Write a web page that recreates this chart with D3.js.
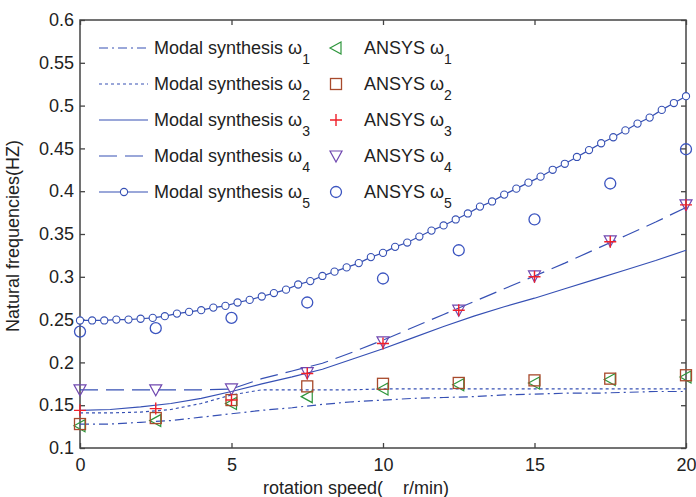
<!DOCTYPE html>
<head>
  <style>
    body { margin: 0; background: #fff; }
    text { font-family: Arial, "Liberation Sans", sans-serif; fill: #222; }
  </style>
</head>
<title>Natural frequencies vs rotation speed</title>
<body>
<script src="https://cdn.jsdelivr.net/npm/d3@7"></script>
<script>

// ---- data ----
var xTicks = [0, 5, 10, 15, 20];
var yTicks = [0.1, 0.15, 0.2, 0.25, 0.3, 0.35, 0.4, 0.45, 0.5, 0.55, 0.6];

// modal synthesis curves, sampled every 1 r/min
var lineX = [0,1,2,3,4,5,6,7,8,9,10,11,12,13,14,15,16,17,18,19,20];
var modal1 = [0.128,0.128,0.130,0.132,0.136,0.140,0.144,0.147,0.151,0.154,0.156,0.158,0.159,0.160,0.162,0.163,0.164,0.164,0.165,0.166,0.166];
var modal2 = [0.141,0.141,0.142,0.145,0.152,0.162,0.168,0.168,0.168,0.168,0.169,0.169,0.169,0.169,0.169,0.169,0.169,0.169,0.169,0.169,0.169];
var modal3 = [0.144,0.145,0.148,0.152,0.158,0.166,0.175,0.183,0.192,0.204,0.216,0.229,0.242,0.254,0.265,0.275,0.286,0.297,0.308,0.319,0.331];
var modal4 = [0.168,0.168,0.168,0.168,0.168,0.169,0.181,0.190,0.199,0.212,0.226,0.241,0.256,0.271,0.286,0.301,0.316,0.332,0.348,0.364,0.381];

// modal synthesis w5, drawn with circles every 0.4 r/min
var circX = [0,0.4,0.8,1.2,1.6,2,2.4,2.8,3.2,3.6,4,4.4,4.8,5.2,5.6,6,6.4,6.8,7.2,7.6,8,8.4,8.8,9.2,9.6,10,
             10.4,10.8,11.2,11.6,12,12.4,12.8,13.2,13.6,14,14.4,14.8,15.2,15.6,16,16.4,16.8,17.2,17.6,18,18.4,18.8,19.2,19.6,20];
var modal5 = [0.249,0.249,0.249,0.250,0.250,0.251,0.252,0.254,0.257,0.259,0.261,0.264,0.266,0.270,0.273,0.277,0.281,0.285,0.291,0.295,0.301,0.306,0.311,0.316,0.323,0.328,
              0.335,0.340,0.347,0.354,0.360,0.367,0.374,0.382,0.388,0.396,0.403,0.410,0.417,0.425,0.432,0.440,0.448,0.456,0.463,0.471,0.479,0.486,0.495,0.503,0.511];

// ANSYS results
var ansysX = [0, 2.5, 5, 7.5, 10, 12.5, 15, 17.5, 20];
var ansys1 = [0.126,0.132,0.152,0.160,0.169,0.174,0.176,0.180,0.183];
var ansys2 = [0.128,0.135,0.156,0.172,0.175,0.176,0.179,0.181,0.185];
var ansys3 = [0.144,0.146,0.156,0.187,0.222,0.261,0.300,0.341,0.384];
var ansys4 = [0.168,0.168,0.169,0.188,0.224,0.261,0.301,0.342,0.384];
var ansys5 = [0.236,0.240,0.252,0.270,0.298,0.331,0.367,0.409,0.449];

var blue = "#3650b4";

var svg = d3.select("body").append("svg")
  .attr("width", 696).attr("height", 497);

var x = d3.scaleLinear().domain([0, 20]).range([80, 686]);
var y = d3.scaleLinear().domain([0.1, 0.6]).range([448, 20]);

// axes box with inward ticks
var axCol = "#444";
svg.append("g").attr("transform", "translate(0,448)")
  .call(d3.axisBottom(x).tickValues(xTicks).tickSizeInner(-5).tickSizeOuter(0).tickPadding(10))
  .call(function(g){ g.select(".domain").remove(); });
svg.append("g").attr("transform", "translate(0,20)")
  .call(d3.axisTop(x).tickValues(xTicks).tickSizeInner(-5).tickSizeOuter(0).tickFormat(""))
  .call(function(g){ g.select(".domain").remove(); });
svg.append("g").attr("transform", "translate(80,0)")
  .call(d3.axisLeft(y).tickValues(yTicks).tickSizeInner(-5).tickSizeOuter(0).tickPadding(6).tickFormat(d3.format("")))
  .call(function(g){ g.select(".domain").remove(); });
svg.append("g").attr("transform", "translate(686,0)")
  .call(d3.axisRight(y).tickValues(yTicks).tickSizeInner(-5).tickSizeOuter(0).tickFormat(""))
  .call(function(g){ g.select(".domain").remove(); });
svg.selectAll(".tick line").attr("stroke", axCol).attr("stroke-width", 1.3);
svg.selectAll(".tick text").attr("font-size", 18).attr("fill", "#333")
  .attr("font-family", "Arial, 'Liberation Sans', sans-serif");
svg.append("rect").attr("x", 80).attr("y", 20).attr("width", 606).attr("height", 428)
  .attr("fill", "none").attr("stroke", axCol).attr("stroke-width", 1.5);

// axis titles
svg.append("text").attr("x", 356).attr("y", 494).attr("text-anchor", "middle")
  .attr("xml:space", "preserve").style("white-space", "pre")
  .attr("font-size", 18).attr("fill", "#333").text("rotation speed(    r/min)");
svg.append("text").attr("transform", "translate(19,236) rotate(-90)").attr("text-anchor", "middle")
  .attr("font-size", 18).attr("fill", "#333").text("Natural frequencies(HZ)");

// modal synthesis lines
var line = d3.line().x(function(d){ return x(d[0]); }).y(function(d){ return y(d[1]); });
var modals = [
  {v: modal1, dash: "9,4,2,4"},
  {v: modal2, dash: "3,3"},
  {v: modal3, dash: null},
  {v: modal4, dash: "18,8"}
];
modals.forEach(function(m){
  svg.append("path").datum(lineX.map(function(d, i){ return [d, m.v[i]]; }))
    .attr("d", line).attr("fill", "none").attr("stroke", blue).attr("stroke-width", 1.2)
    .attr("stroke-dasharray", m.dash);
});
var c5 = circX.map(function(d, i){ return [d, modal5[i]]; });
svg.append("path").datum(c5).attr("d", line).attr("fill", "none")
  .attr("stroke", blue).attr("stroke-width", 1.2);
svg.selectAll(".c5").data(c5).enter().append("circle")
  .attr("cx", function(d){ return x(d[0]); }).attr("cy", function(d){ return y(d[1]); })
  .attr("r", 3.6).attr("fill", "#fff").attr("stroke", blue).attr("stroke-width", 1.1);

// marker shapes
function mark(g, type, cx, cy) {
  if (type == 1) {
    g.append("path").attr("d", "M" + (cx-6) + "," + cy + "L" + (cx+5) + "," + (cy-6) + "L" + (cx+5) + "," + (cy+6) + "Z")
      .attr("fill", "none").attr("stroke", "#2e963c").attr("stroke-width", 1.2);
  } else if (type == 2) {
    g.append("rect").attr("x", cx-5.5).attr("y", cy-5.5).attr("width", 11).attr("height", 11)
      .attr("fill", "none").attr("stroke", "#a84a2c").attr("stroke-width", 1.3);
  } else if (type == 3) {
    g.append("path").attr("d", "M" + (cx-6) + "," + cy + "H" + (cx+6) + "M" + cx + "," + (cy-6) + "V" + (cy+6))
      .attr("stroke", "#f0202a").attr("stroke-width", 1.4);
  } else if (type == 4) {
    g.append("path").attr("d", "M" + (cx-6) + "," + (cy-5) + "L" + (cx+6) + "," + (cy-5) + "L" + cx + "," + (cy+6) + "Z")
      .attr("fill", "none").attr("stroke", "#7048b0").attr("stroke-width", 1.2);
  } else {
    g.append("circle").attr("cx", cx).attr("cy", cy).attr("r", 5.5)
      .attr("fill", "none").attr("stroke", "#3c55c0").attr("stroke-width", 1.3);
  }
}

var ansys = [ansys1, ansys2, ansys4, ansys3, ansys5];
var order = [1, 2, 4, 3, 5];
var mg = svg.append("g");
ansys.forEach(function(vals, k){
  ansysX.forEach(function(d, i){ mark(mg, order[k], x(d), y(vals[i])); });
});

// legend
var rows = [48, 84, 120, 156, 192];
var dashes = ["9,4,2,4", "3,3", null, "18,8", null];
var lg = svg.append("g");
rows.forEach(function(ry, i){
  lg.append("line").attr("x1", 99).attr("x2", 148).attr("y1", ry).attr("y2", ry)
    .attr("stroke", blue).attr("stroke-width", 1.2).attr("stroke-dasharray", dashes[i]);
  if (i == 4) {
    lg.append("circle").attr("cx", 124).attr("cy", ry).attr("r", 3.6)
      .attr("fill", "#fff").attr("stroke", blue).attr("stroke-width", 1.1);
  }
  var t = lg.append("text").attr("x", 154).attr("y", ry + 6).attr("font-size", 18).attr("fill", "#333");
  t.append("tspan").text("Modal synthesis \u03c9");
  t.append("tspan").attr("dy", 10).attr("font-size", 14).text(i + 1);
  mark(lg, i + 1, 336, ry);
  var t2 = lg.append("text").attr("x", 364).attr("y", ry + 6).attr("font-size", 18).attr("fill", "#333");
  t2.append("tspan").text("ANSYS \u03c9");
  t2.append("tspan").attr("dy", 10).attr("font-size", 14).text(i + 1);
});

</script>
</body>
